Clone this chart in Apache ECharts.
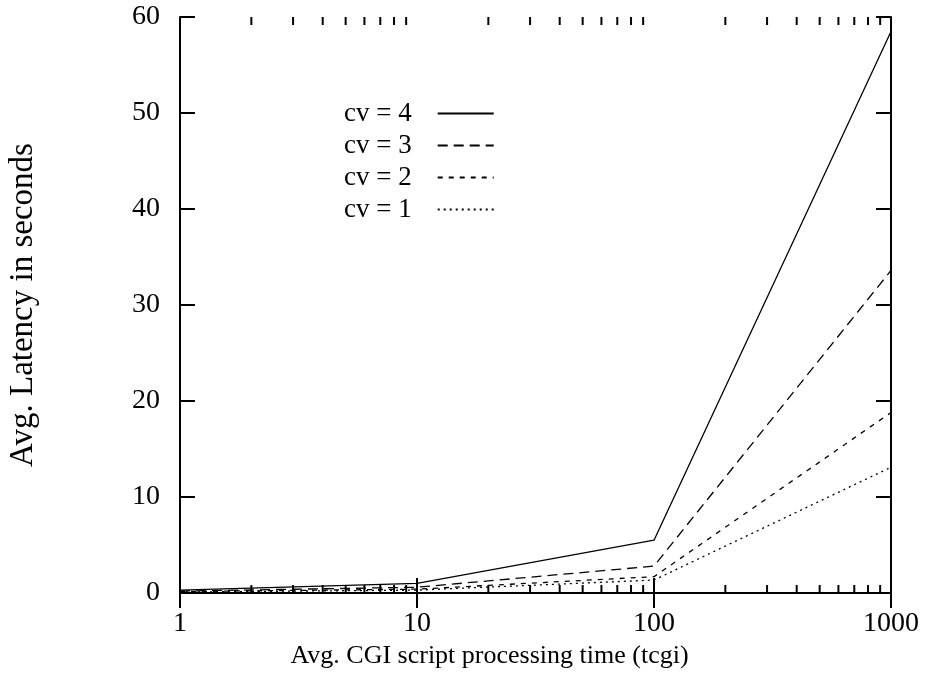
<!DOCTYPE html>
<html>
<head>
<meta charset="utf-8">
<script src="https://cdn.jsdelivr.net/npm/echarts@6/dist/echarts.min.js"></script>
<style>
  html, body { margin: 0; padding: 0; background: #fff; }
  #chart { width: 927px; height: 678px; }
</style>
</head>
<body>
<div id="chart"></div>
<script>
// x: avg CGI script processing time (log scale)
var tcgi = [1, 10, 100, 1000];
var cv4 = [0.3, 1.0, 5.5, 58.5];
var cv3 = [0.2, 0.6, 2.8, 33.6];
var cv2 = [0.15, 0.4, 1.7, 18.8];
var cv1 = [0.1, 0.3, 1.35, 13.1];
var minorTicks = [2, 3, 4, 5, 6, 7, 8, 9, 20, 30, 40, 50, 60, 70, 80, 90, 200, 300, 400, 500, 600, 700, 800, 900];

var font = "Liberation Serif";

function pairs(ys) {
  return tcgi.map(function (x, i) { return [x, ys[i]]; });
}

function lineSeries(name, ys, type) {
  return {
    name: name,
    type: "line",
    data: pairs(ys),
    symbol: "none",
    showSymbol: false,
    lineStyle: { color: "#000", width: 1.3, type: type },
    itemStyle: { color: "#000" }
  };
}

var chart = echarts.init(document.getElementById("chart"));

var option = {
  animation: false,
  backgroundColor: "#fff",
  grid: { left: 180, right: 36, top: 17, bottom: 85, outerBoundsMode: "none", containLabel: false },
  legend: {
    orient: "vertical",
    left: 339,
    top: 95,
    align: "right",
    itemWidth: 56,
    itemHeight: 14,
    itemGap: 5,
    itemStyle: { opacity: 0 },
    textStyle: { fontFamily: font, fontSize: 27, lineHeight: 27, color: "#000", padding: [0, 21, 0, 0] },
    data: ["cv = 4", "cv = 3", "cv = 2", "cv = 1"]
  },
  xAxis: [
    {
      type: "log",
      logBase: 10,
      min: 1,
      max: 1000,
      name: "Avg. CGI script processing time (tcgi)",
      nameLocation: "middle",
      nameGap: 47,
      nameTextStyle: { fontFamily: font, fontSize: 26, color: "#000", padding: [0, 92, 0, 0] },
      axisLine: { lineStyle: { color: "#000", width: 2 } },
      axisTick: { inside: true, length: 15, lineStyle: { color: "#000", width: 2 } },
      axisLabel: {
        fontFamily: font, fontSize: 28, color: "#000", margin: 17,
        formatter: function (v) { return String(v); }
      },
      splitLine: { show: false }
    },
    {
      type: "log",
      logBase: 10,
      min: 1,
      max: 1000,
      position: "top",
      axisLine: { lineStyle: { color: "#000", width: 2 } },
      axisTick: { inside: true, length: 15, lineStyle: { color: "#000", width: 2 } },
      axisLabel: { show: false },
      splitLine: { show: false }
    }
  ],
  yAxis: [
    {
      type: "value",
      min: 0,
      max: 60,
      interval: 10,
      name: "Avg. Latency in seconds",
      nameLocation: "middle",
      nameRotate: 90,
      nameGap: 140,
      nameTextStyle: { fontFamily: font, fontSize: 33, color: "#000" },
      axisLine: { show: true, lineStyle: { color: "#000", width: 2 } },
      axisTick: { show: true, inside: true, length: 15, lineStyle: { color: "#000", width: 2 } },
      axisLabel: { fontFamily: font, fontSize: 28, color: "#000", margin: 20 },
      splitLine: { show: false }
    },
    {
      type: "value",
      min: 0,
      max: 60,
      interval: 10,
      position: "right",
      axisLine: { show: true, lineStyle: { color: "#000", width: 2 } },
      axisTick: { show: true, inside: true, length: 15, lineStyle: { color: "#000", width: 2 } },
      axisLabel: { show: false },
      splitLine: { show: false }
    }
  ],
  series: [
    lineSeries("cv = 4", cv4, "solid"),
    lineSeries("cv = 3", cv3, [10, 6]),
    lineSeries("cv = 2", cv2, [5, 6]),
    lineSeries("cv = 1", cv1, [2, 4]),
    {
      // minor log ticks, bottom and top
      type: "custom",
      silent: true,
      data: minorTicks.map(function (v) { return [v, 0]; }),
      renderItem: function (params, api) {
        var p = api.coord([api.value(0), 0]);
        var top = api.coord([api.value(0), 60]);
        var st = { stroke: "#000", lineWidth: 2 };
        return {
          type: "group",
          children: [
            { type: "line", shape: { x1: p[0], y1: p[1], x2: p[0], y2: p[1] - 8 }, style: st },
            { type: "line", shape: { x1: top[0], y1: top[1], x2: top[0], y2: top[1] + 8 }, style: st }
          ]
        };
      }
    }
  ]
};

chart.setOption(option);
</script>
</body>
</html>
